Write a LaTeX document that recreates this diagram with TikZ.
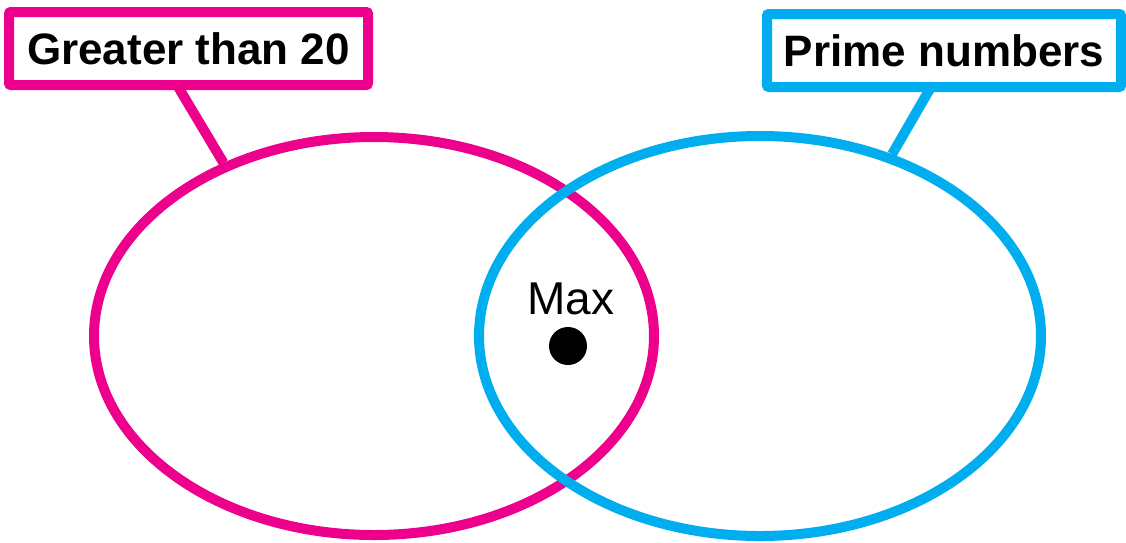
\documentclass[tikz,border=0pt]{standalone}
\usepackage{fontspec}
\setmainfont{Liberation Sans}
\usetikzlibrary{shapes.geometric}
\definecolor{vpink}{HTML}{EC008C}
\definecolor{vblue}{HTML}{00AEEF}
\tikzset{
  setring/.style={ellipse, draw, line width=10pt, inner sep=0pt, minimum width=#1},
  labelbox/.style={draw, line width=10pt, rounded corners=2pt, inner sep=0pt,
    minimum width=355pt, minimum height=73pt, font=\fontsize{44}{44}\selectfont\bfseries},
  leader/.style={line width=10pt},
}
\begin{document}
\begin{tikzpicture}[x=1pt,y=-1pt]
\useasboundingbox (0,0) rectangle (1126,542);
\node[setring=560pt, minimum height=398pt, vpink] (pinkell) at (374,336) {};
\node[setring=562pt, minimum height=400pt, vblue] (blueell) at (760,336) {};
\node[labelbox, vpink, minimum width=359pt, text=black] (pinkbox) at (188.5,48.5) {Greater than 20};
\node[labelbox, vblue, minimum width=354pt, text=black] (bluebox) at (944,50.5) {Prime numbers};
\coordinate (pa) at (177,85);
\coordinate (ba) at (931,87);
\draw[leader, vpink] (pa) -- (pinkell.131);
\draw[leader, vblue] (ba) -- (blueell.54);
\node[circle, fill=black, minimum size=38pt, inner sep=0pt] (dot) at (568,346) {};
\node[font=\fontsize{46}{46}\selectfont, anchor=base, inner sep=0pt] (max) at (571,314) {Max};
\end{tikzpicture}
\end{document}
